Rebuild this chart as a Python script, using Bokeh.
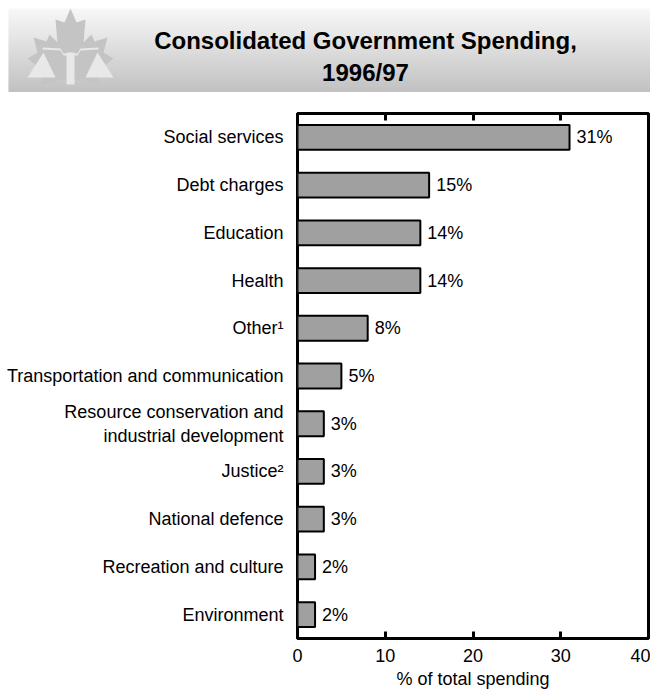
from bokeh.plotting import figure
from bokeh.layouts import column
from bokeh.models import FactorRange, Range1d, LinearAxis, FixedTicker, ColumnDataSource
from bokeh.core.properties import value
from bokeh.embed import file_html
from bokeh.resources import INLINE

FONT = "Liberation Sans"

categories = [
    "Social services",
    "Debt charges",
    "Education",
    "Health",
    "Other\u00b9",
    "Transportation and communication",
    "Resource conservation and\nindustrial development",
    "Justice\u00b2",
    "National defence",
    "Recreation and culture",
    "Environment",
]
shares = [31, 15, 14, 14, 8, 5, 3, 3, 3, 2, 2]
share_labels = ["31%", "15%", "14%", "14%", "8%", "5%", "3%", "3%", "3%", "2%", "2%"]
x_ticks = [0, 10, 20, 30, 40]
title_lines = ["Consolidated Government Spending,", "1996/97"]

# ---------------- header banner ----------------
W = 650
hdr = figure(width=W, height=100, x_range=Range1d(0, W), y_range=Range1d(100, 0),
             output_backend="svg", toolbar_location=None, min_border=0,
             x_axis_type=None, y_axis_type=None)
hdr.outline_line_color = None
hdr.grid.visible = False

n = 42
top_y, bot_y = 8, 91
step = (bot_y - top_y) / n
gs = []
for i in range(n):
    t = i / (n - 1)
    g = int(round(247 - t * (247 - 194)))
    gs.append("#%02x%02x%02x" % (g, g, g))
hdr.quad(left=[8] * n, right=[W] * n,
         top=[top_y + i * step for i in range(n)],
         bottom=[top_y + (i + 1) * step + 0.6 for i in range(n)],
         fill_color=gs, line_color=None)

# maple leaf emblem
half = [(70, 8), (64, 22), (55, 19), (57, 42), (49, 34), (46, 41), (33, 37),
        (37, 52), (27, 58), (44, 72), (40, 84), (60, 79), (67, 80), (67, 90)]
right = [(140 - x, y) for (x, y) in reversed(half)]
pts = half + right
hdr.patch([q[0] for q in pts], [q[1] for q in pts], fill_color="#c4c4c4", line_color=None)
# scales
hdr.patch([27, 55, 43], [77, 77, 52], fill_color="#e8e8e8", line_color=None)
hdr.patch([85, 113, 97], [77, 77, 52], fill_color="#e8e8e8", line_color=None)
hdr.quad(left=[66], right=[74], top=[52], bottom=[84], fill_color="#e8e8e8", line_color=None)
hdr.patch([42, 60, 63, 77, 80, 98, 98, 80, 77, 63, 60, 42],
          [47, 48, 53, 53, 48, 47, 49, 50, 55, 55, 50, 49], fill_color="#e8e8e8", line_color=None)

hdr.text(x=[365, 365], y=[40, 72], text=title_lines, text_align="center",
         text_baseline="middle", text_font=value(FONT), text_font_style="bold",
         text_font_size="24px", text_color="black")

# ---------------- main chart ----------------
p = figure(width=W, height=594, y_range=FactorRange(*list(reversed(categories))),
           x_range=Range1d(0, 40), output_backend="svg", toolbar_location=None,
           min_border_left=297, min_border_right=2, min_border_top=13, min_border_bottom=56)
p.outline_line_color = "black"
p.outline_line_width = 3
p.grid.visible = False

src = ColumnDataSource(dict(cat=categories, val=shares, lab=share_labels))
p.hbar(y="cat", right="val", left=0, height=0.52, source=src,
       fill_color="#a0a0a0", line_color="black", line_width=2)
p.text(x="val", y="cat", text="lab", source=src, x_offset=7, text_baseline="middle",
       text_font=value(FONT), text_font_size="18px", text_color="black")

xa = p.xaxis[0]
xa.ticker = FixedTicker(ticks=x_ticks)
xa.axis_line_color = None
xa.major_tick_in = 7
xa.major_tick_out = 0
xa.major_tick_line_width = 3
xa.minor_tick_line_color = None
xa.major_label_text_font = FONT
xa.major_label_text_font_size = "18px"
xa.major_label_text_color = "black"
xa.major_label_standoff = 10
xa.axis_label = "% of total spending"
xa.axis_label_text_font = FONT
xa.axis_label_text_font_size = "18px"
xa.axis_label_text_font_style = "normal"
xa.axis_label_text_color = "black"
xa.axis_label_standoff = 4

top = LinearAxis(ticker=FixedTicker(ticks=x_ticks))
top.axis_line_color = None
top.major_tick_in = 7
top.major_tick_out = 0
top.major_tick_line_width = 3
top.minor_tick_line_color = None
top.major_label_overrides = {t: "" for t in x_ticks}
top.major_label_standoff = 0
p.add_layout(top, "above")

ya = p.yaxis[0]
ya.axis_line_color = None
ya.major_tick_line_color = None
ya.minor_tick_line_color = None
ya.major_label_text_font = FONT
ya.major_label_text_font_size = "18px"
ya.major_label_text_color = "black"
ya.major_label_standoff = 8

for fig in (hdr, p):
    try:
        fig.frame_align = False
    except Exception:
        pass

layout = column(hdr, p, spacing=0)
open("out.html", "w").write(file_html(layout, INLINE))
